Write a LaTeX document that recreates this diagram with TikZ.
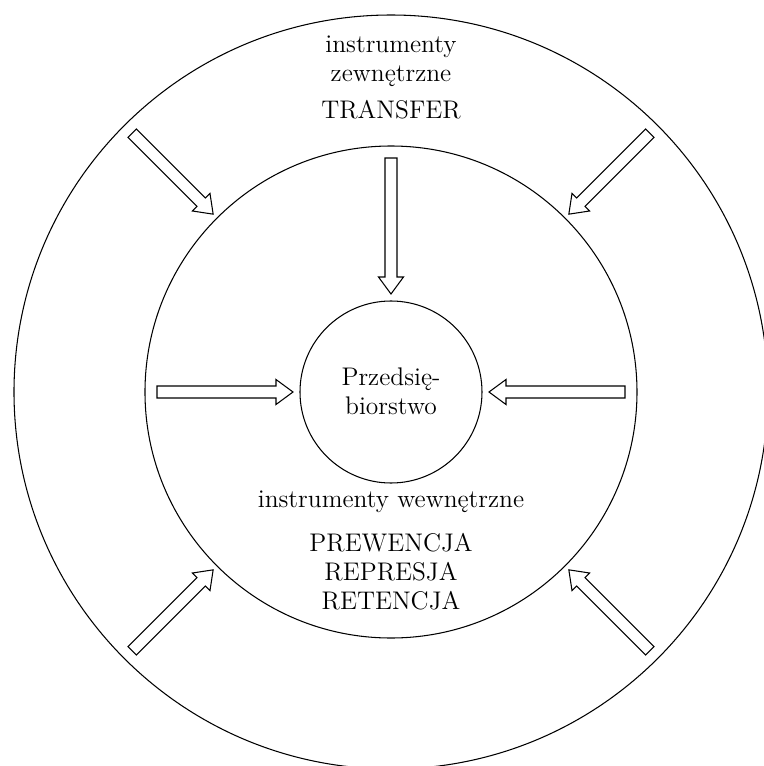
\documentclass[tikz,border=0pt]{standalone}
\usepackage{tikz}
\usetikzlibrary{math}
\tikzstyle{opis} = [align=center, font=\fontsize{14.5}{16.5}\selectfont, inner sep=0pt]
\tikzstyle{okrag} = [line width=0.6pt]
\tikzstyle{blok} = [line width=0.6pt, line join=miter, fill=white]

% hollow block arrow: angle, tail radius, tip radius
\newcommand{\strzalka}[3]{
  \begin{scope}[rotate=#1]
    \draw[blok] (#2,-0.12) -- (#3+0.34,-0.12) -- (#3+0.34,-0.25) -- (#3,0)
      -- (#3+0.34,0.25) -- (#3+0.34,0.12) -- (#2,0.12) -- cycle;
  \end{scope}
}

\begin{document}
\begin{tikzpicture}

  \tikzmath{\rout = 7.54; \rmid = 4.92; \rin = 1.82;}

  \useasboundingbox (-7.82,-7.48) rectangle (7.46,7.84);

  \draw[okrag] (0,0) circle (\rout);
  \draw[okrag] (0,0) circle (\rmid);
  \draw[okrag] (0,0) circle (\rin);

  \node[opis] (firma) at (0,0.01) {Przedsię-\\biorstwo};

  \node[opis] (zewn) at (0,6.61) {instrumenty\\zewnętrzne};
  \node[opis] (transfer) at (0,5.64) {TRANSFER};

  \node[opis] (wewn) at (0,-2.2) {instrumenty wewnętrzne};
  \node[opis] (metody) at (0,-3.6) {PREWENCJA\\REPRESJA\\RETENCJA};

  % inner ring
  \strzalka{90}{4.68}{1.96}
  \strzalka{180}{4.68}{1.96}
  \strzalka{0}{4.68}{1.96}

  % outer ring
  \foreach \kat in {45,135,225,315}
    \strzalka{\kat}{7.32}{5.03};

\end{tikzpicture}
\end{document}
